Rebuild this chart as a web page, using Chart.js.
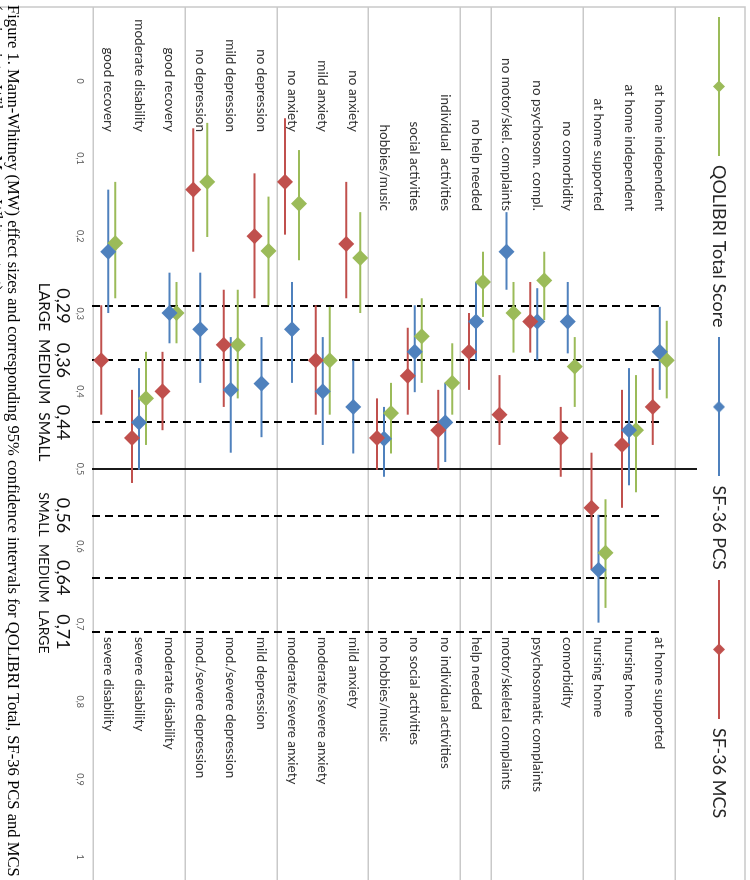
<!DOCTYPE html>
<html>
<head>
<meta charset="utf-8">
<script src="https://cdn.jsdelivr.net/npm/chart.js@4.4.1/dist/chart.umd.min.js"></script>
<style>
html,body{margin:0;padding:0;background:#fff;overflow:hidden;width:750px;height:880px;}
#wrap{position:absolute;left:0;top:0;width:880px;height:750px;transform-origin:0 0;transform:translate(750px,0) rotate(90deg);background:#fff;}
canvas{display:block;}
</style>
</head>
<body>
<div id="wrap"><canvas id="c" width="880" height="750"></canvas></div>
<script>
// ---------- data ----------
const leftLabels = [
  'at home independent','at home independent','at home supported',
  'no comorbidity','no psychosom. compl.','no motor/skel. complaints',
  'no help needed',
  'individual  activities','social activities','hobbies/music',
  'no anxiety','mild anxiety','no anxiety',
  'no depression','mild depression','no depression',
  'good recovery','moderate disability','good recovery'
];
const rightLabels = [
  'at home supported','nursing home','nursing home',
  'comorbidity','psychosomatic complaints','motor/skeletal complaints',
  'help needed',
  'no individual activities','no social activities','no hobbies/music',
  'mild anxiety','moderate/severe anxiety','moderate/severe anxiety',
  'mild depression','mod./severe depression','mod./severe depression',
  'moderate disability','severe disability','severe disability'
];
const groups = [
  'residence','residence','residence',
  'comorbidity','comorbidity','comorbidity',
  'help',
  'activities','activities','activities',
  'anxiety','anxiety','anxiety',
  'depression','depression','depression',
  'outcome','outcome','outcome'
];
const seriesNames = ['QOLIBRI Total Score','SF-36 PCS','SF-36 MCS'];

const qolibriEst  = [0.360,0.450,0.608,0.368,0.257,0.299,0.259,0.389,0.329,0.428,0.228,0.360,0.158,0.219,0.340,0.130,0.299,0.409,0.209];
const qolibriLow  = [0.309,0.379,0.539,0.330,0.220,0.259,0.220,0.338,0.280,0.389,0.169,0.291,0.089,0.149,0.269,0.054,0.259,0.349,0.130];
const qolibriHigh = [0.409,0.530,0.679,0.420,0.308,0.350,0.304,0.430,0.389,0.480,0.299,0.430,0.231,0.289,0.409,0.201,0.338,0.469,0.280];

const pcsEst  = [0.349,0.450,0.630,0.310,0.310,0.220,0.310,0.440,0.349,0.461,0.420,0.400,0.320,0.390,0.398,0.320,0.299,0.440,0.220];
const pcsLow  = [0.291,0.370,0.559,0.259,0.267,0.169,0.259,0.389,0.289,0.420,0.360,0.330,0.259,0.330,0.330,0.247,0.247,0.370,0.140];
const pcsHigh = [0.398,0.521,0.698,0.351,0.360,0.269,0.360,0.491,0.401,0.510,0.480,0.469,0.389,0.459,0.479,0.389,0.338,0.501,0.299];

const mcsEst  = [0.420,0.469,0.550,0.460,0.310,0.430,0.349,0.450,0.380,0.460,0.210,0.360,0.130,0.200,0.340,0.140,0.400,0.460,0.360];
const mcsLow  = [0.370,0.398,0.479,0.420,0.259,0.379,0.299,0.398,0.318,0.409,0.130,0.289,0.048,0.119,0.269,0.061,0.349,0.398,0.289];
const mcsHigh = [0.469,0.550,0.630,0.510,0.350,0.469,0.398,0.501,0.430,0.501,0.280,0.430,0.198,0.280,0.420,0.220,0.450,0.518,0.430];

const tickValues = [0,0.1,0.2,0.3,0.4,0.5,0.6,0.7,0.8,0.9,1];
const tickLabels = ['0','0,1','0,2','0,3','0,4','0,5','0,6','0,7','0,8','0,9','1'];
const thresholds = [0.29,0.36,0.44,0.56,0.64,0.71];
const thresholdLabels = ['0,29','0,36','0,44','0,56','0,64','0,71'];
const neutralValue = 0.5;
const sizeWordsLow = 'LARGE  MEDIUM  SMALL';
const sizeWordsHigh = 'SMALL  MEDIUM  LARGE';
const captionLines = [
  'Figure 1. Mann-Whitney (MW) effect sizes and corresponding 95% confidence intervals for QOLIBRI Total, SF-36 PCS and MCS',
  '(univariate, Wilcoxon-Mann-Whitney-test)'
];

// ---------- styling ----------
const COLORS = ['#9BBB59','#4F81BD','#C0504D'];
const LABEL_FONT = '13.5px Lato';
const GRID = '#c9c9c9';

function pairs(lo, hi){ return lo.map((l,i)=>[l, hi[i]]); }

function diamond(ctx, x, y, r, color){
  ctx.beginPath();
  ctx.moveTo(x, y - r); ctx.lineTo(x + r, y); ctx.lineTo(x, y + r); ctx.lineTo(x - r, y);
  ctx.closePath();
  ctx.fillStyle = color; ctx.fill();
}

function legendSymbol(color){
  const c = document.createElement('canvas');
  c.width = 139; c.height = 18;
  const g = c.getContext('2d');
  g.strokeStyle = color; g.lineWidth = 2;
  g.beginPath(); g.moveTo(0, 9); g.lineTo(139, 9); g.stroke();
  diamond(g, 69.5, 9, 6, color);
  return c;
}

const sets = [
  {est: qolibriEst, lo: qolibriLow, hi: qolibriHigh},
  {est: pcsEst, lo: pcsLow, hi: pcsHigh},
  {est: mcsEst, lo: mcsLow, hi: mcsHigh}
];

const datasets = sets.map((s, i) => ({
  label: seriesNames[i],
  data: pairs(s.lo, s.hi),
  est: s.est,
  backgroundColor: COLORS[i],
  borderWidth: 0,
  borderSkipped: false,
  categoryPercentage: 0.6856,
  barPercentage: 0.2857
}));

// left label anchor (in effect-size units) per group
const leftAnchor = {residence:0.1675, comorbidity:0.1675, help:0.1675, activities:0.1675,
                    anxiety:0.0657, depression:0.0657, outcome:0.0657};
const rightAnchor = 0.7165;

const groupEdges = groups.map((g,i)=> i===0 || groups[i-1] !== g);

const decor = {
  id: 'decor',
  beforeDatasetsDraw(chart){
    const {ctx, chartArea} = chart;
    const xs = chart.scales.x, ys = chart.scales.y;
    ctx.save();
    // outer chart border (left & top in this orientation)
    ctx.strokeStyle = GRID; ctx.lineWidth = 1.5;
    ctx.beginPath(); ctx.moveTo(7, 750); ctx.lineTo(7, 5); ctx.lineTo(880, 5); ctx.stroke();
    // threshold lines
    const rowTop = ys.getPixelForValue(0) - 3;
    ctx.strokeStyle = '#000'; ctx.lineWidth = 2; ctx.setLineDash([8,5]);
    thresholds.forEach(v => {
      const x = Math.round(xs.getPixelForValue(v));
      ctx.beginPath(); ctx.moveTo(x, chartArea.bottom + 1); ctx.lineTo(x, rowTop); ctx.stroke();
    });
    ctx.setLineDash([]);
    const xn = Math.round(xs.getPixelForValue(neutralValue));
    ctx.lineWidth = 1.8;
    ctx.beginPath(); ctx.moveTo(xn, chartArea.bottom + 1); ctx.lineTo(xn, chartArea.top - 22); ctx.stroke();
    // row labels
    ctx.font = LABEL_FONT; ctx.fillStyle = '#333'; ctx.textBaseline = 'middle';
    leftLabels.forEach((t, i) => {
      ctx.textAlign = 'right';
      ctx.fillText(t, xs.getPixelForValue(leftAnchor[groups[i]]), ys.getPixelForValue(i));
    });
    rightLabels.forEach((t, i) => {
      ctx.textAlign = 'left';
      ctx.fillText(t, xs.getPixelForValue(rightAnchor), ys.getPixelForValue(i));
    });
    ctx.restore();
  },
  afterDatasetsDraw(chart){
    const {ctx} = chart;
    const xs = chart.scales.x;
    ctx.save();
    chart.data.datasets.forEach((ds, di) => {
      const meta = chart.getDatasetMeta(di);
      meta.data.forEach((el, i) => {
        diamond(ctx, xs.getPixelForValue(ds.est[i]), el.y, 8, ds.backgroundColor);
      });
    });
    ctx.restore();
  },
  afterDraw(chart){
    const {ctx} = chart;
    const xs = chart.scales.x;
    ctx.save();
    ctx.fillStyle = '#111'; ctx.textBaseline = 'middle'; ctx.textAlign = 'center';
    ctx.font = '18px Lato';
    thresholds.forEach((v, i) => ctx.fillText(thresholdLabels[i], xs.getPixelForValue(v), 687));
    ctx.textAlign = 'left';
    ctx.font = '15.5px Lato';
    ctx.fillText(sizeWordsLow, xs.getPixelForValue(0.26), 706);
    ctx.font = '14px Lato';
    ctx.fillText(sizeWordsHigh, xs.getPixelForValue(0.53), 706);
    ctx.font = '16.6px "Liberation Serif"';
    ctx.fillStyle = '#000';
    ctx.fillText(captionLines[0], 5, 738);
    ctx.fillText(captionLines[1], 5, 755);
    ctx.restore();
  }
};

new Chart(document.getElementById('c'), {
  type: 'bar',
  data: { labels: leftLabels, datasets },
  plugins: [decor],
  options: {
    indexAxis: 'y',
    responsive: false,
    animation: false,
    devicePixelRatio: 1,
    layout: { padding: { left: 7, right: 0, top: 12, bottom: 75 } },
    plugins: {
      tooltip: { enabled: false },
      title: { display: true, text: '', weight: 500, font: { size: 10, lineHeight: 1 }, padding: { top: 0, bottom: 15 } },
      legend: {
        position: 'top', align: 'start',
        labels: {
          font: { family: 'Lato', size: 18 },
          color: '#262626',
          padding: 10,
          usePointStyle: true,
          pointStyleWidth: 139,
          boxHeight: 18,
          generateLabels: chart => chart.data.datasets.map((ds, i) => ({
            text: ds.label,
            pointStyle: legendSymbol(ds.backgroundColor),
            fillStyle: ds.backgroundColor,
            strokeStyle: ds.backgroundColor,
            lineWidth: 0,
            hidden: false,
            datasetIndex: i,
            fontColor: '#262626'
          }))
        }
      }
    },
    scales: {
      x: {
        type: 'linear',
        position: 'bottom',
        min: -0.09536,
        max: 1.02964,
        afterBuildTicks: s => { s.ticks = tickValues.map(v => ({ value: v })); },
        afterFit: s => { s.height = 18; },
        ticks: {
          autoSkip: false, maxRotation: 0, padding: 8,
          font: { family: 'Lato', size: 9 }, color: '#595959',
          callback: (v, i) => tickLabels[i]
        },
        grid: { display: false, drawTicks: false },
        border: { display: false }
      },
      y: {
        type: 'category',
        afterFit: s => { s.width = 0; },
        ticks: { display: false },
        grid: {
          drawTicks: false,
          lineWidth: 1.5,
          color: c => (c.type !== 'tick' || groupEdges[c.index]) ? GRID : 'rgba(0,0,0,0)'
        },
        border: { display: false }
      }
    }
  }
});
</script>
</body>
</html>
